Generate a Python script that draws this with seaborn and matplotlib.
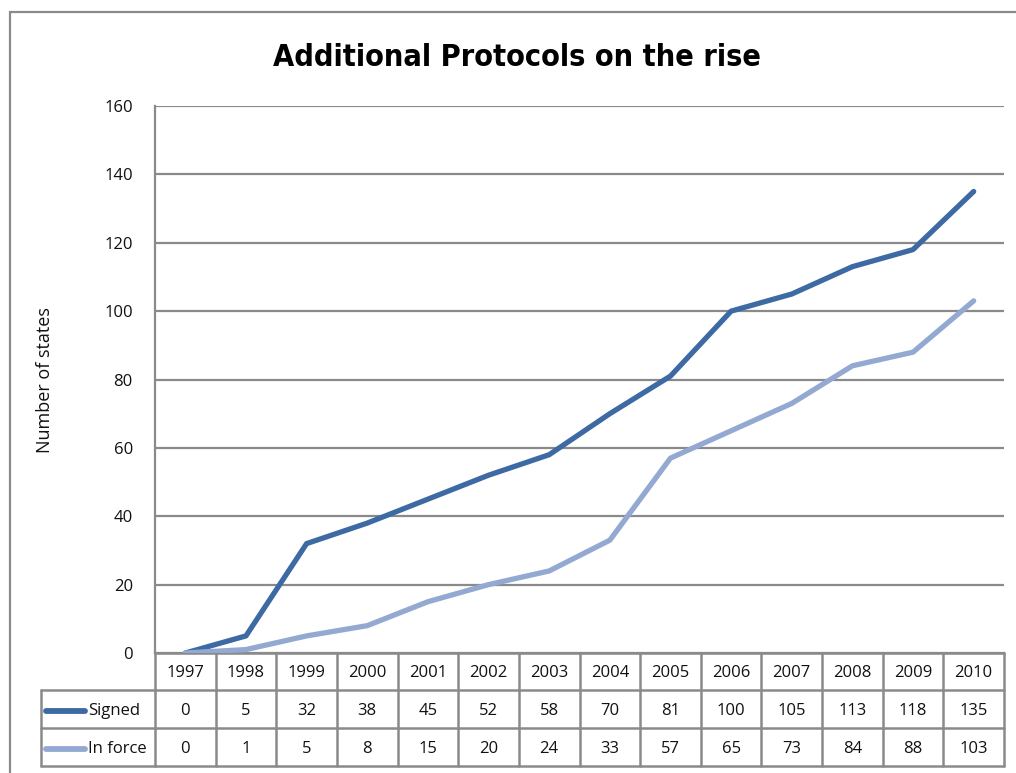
import matplotlib
matplotlib.use("Agg")
import matplotlib.pyplot as plt
import matplotlib.transforms as mtransforms
from matplotlib.lines import Line2D
from matplotlib.patches import Rectangle
import seaborn as sns
import pandas as pd

years = ["1997", "1998", "1999", "2000", "2001", "2002", "2003",
         "2004", "2005", "2006", "2007", "2008", "2009", "2010"]
signed = [0, 5, 32, 38, 45, 52, 58, 70, 81, 100, 105, 113, 118, 135]
in_force = [0, 1, 5, 8, 15, 20, 24, 33, 57, 65, 73, 84, 88, 103]
series_names = ["Signed", "In force"]
colors = ["#3d6aa3", "#93a9d1"]
y_ticks = [0, 20, 40, 60, 80, 100, 120, 140, 160]

sns.set_theme(style="white")
plt.rcParams["font.family"] = ["Open Sans", "DejaVu Sans"]

W, H = 1016, 773
fig = plt.figure(figsize=(W / 100, H / 100), dpi=100)
ax = fig.add_axes([155 / W, 1 - 653 / H, (1004 - 155) / W, (653 - 106) / H])

df = pd.DataFrame({
    "pos": list(range(len(years))) * 2,
    "value": signed + in_force,
    "series": [series_names[0]] * len(years) + [series_names[1]] * len(years),
})
sns.lineplot(data=df, x="pos", y="value", hue="series", palette=colors,
             linewidth=3.8, ax=ax, legend=False, zorder=3)

grid_col = "#8a8a8a"
ax.set_xlim(-0.5, len(years) - 0.5)
ax.set_ylim(0, 160)
ax.set_yticks(y_ticks)
ax.set_yticklabels([str(t) for t in y_ticks], fontsize=12, color="#111111")
ax.tick_params(axis="y", length=0, pad=16)
ax.set_xticks([])
ax.set_xlabel("")
ax.set_ylabel("")
for t in y_ticks[1:]:
    ax.axhline(t, color=grid_col, lw=1.6, zorder=1)
for s in ["top", "right"]:
    ax.spines[s].set_visible(False)
ax.spines["left"].set_color(grid_col)
ax.spines["left"].set_linewidth(1.6)
ax.spines["bottom"].set_color(grid_col)
ax.spines["bottom"].set_linewidth(1.6)

fig.text(45 / W, 1 - 380 / H, "Number of states", rotation=90,
         ha="center", va="center", fontsize=13, color="#111111")

fig.text(517 / W, 1 - 58 / H, "Additional Protocols on the rise",
         ha="center", va="center", fontsize=22, fontweight="bold",
         fontstretch="condensed", family=["DejaVu Sans"], color="black")

# Data table beneath the plot area (pixel-based rows, data-based columns)
px_y = lambda p: 1 - p / H
trans = mtransforms.blended_transform_factory(ax.transData, fig.transFigure)
row_edges = [653, 690, 728, 766]
lw_tab = 1.8
# horizontal rules across the year columns
for yp in row_edges:
    ax.add_line(Line2D([-0.5, len(years) - 0.5], [px_y(yp)] * 2, transform=trans,
                       color=grid_col, lw=lw_tab, clip_on=False))
# vertical rules between year columns
for k in range(len(years) + 1):
    xk = k - 0.5
    ax.add_line(Line2D([xk, xk], [px_y(653), px_y(766)], transform=trans,
                       color=grid_col, lw=lw_tab, clip_on=False))
# legend column at the left
leg_left = 41 / W
for yp in [690, 728, 766]:
    fig.add_artist(Line2D([leg_left, 155 / W], [px_y(yp)] * 2, color=grid_col, lw=lw_tab))
fig.add_artist(Line2D([leg_left, leg_left], [px_y(690), px_y(766)], color=grid_col, lw=lw_tab))

cell_fs = 12
for k, yr in enumerate(years):
    ax.text(k, px_y(673), yr, transform=trans, ha="center", va="center",
            fontsize=cell_fs, color="#111111")
    ax.text(k, px_y(711), str(signed[k]), transform=trans, ha="center", va="center",
            fontsize=cell_fs, color="#111111")
    ax.text(k, px_y(749), str(in_force[k]), transform=trans, ha="center", va="center",
            fontsize=cell_fs, color="#111111")

for name, col, yp in zip(series_names, colors, [711, 749]):
    fig.add_artist(Line2D([46 / W, 85 / W], [px_y(yp)] * 2, color=col, lw=4.2,
                          solid_capstyle="round"))
    fig.text(88 / W, px_y(yp), name, ha="left", va="center", fontsize=cell_fs,
             color="#111111")

# outer chart frame
fig.add_artist(Rectangle((10 / W, px_y(790)), 1.2, (790 - 12) / H, fill=False,
                         edgecolor=grid_col, lw=1.6, transform=fig.transFigure))

fig.savefig("out.png", dpi=100, facecolor="white")
